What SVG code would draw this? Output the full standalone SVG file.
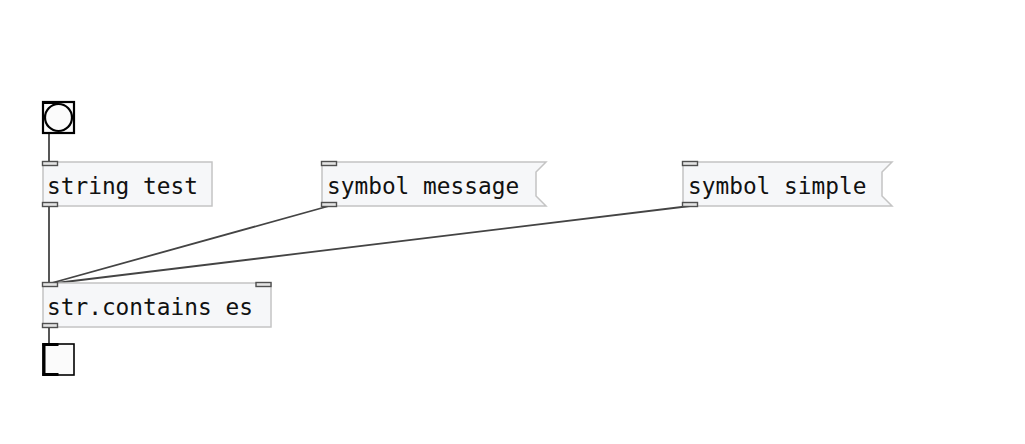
<svg xmlns="http://www.w3.org/2000/svg" width="1025" height="444" viewBox="0 0 1025 444">
<style>
.box{fill:#f6f7f9;stroke:#c4c4c4;stroke-width:1.5}
.io{fill:#e4e4e4;stroke:#505050;stroke-width:1.4}
.txt{font-family:"DejaVu Sans Mono","Liberation Mono",monospace;font-size:22.8px;fill:#111}
.cord{stroke:#444;stroke-width:1.8;fill:none}
</style>
<rect width="1025" height="444" fill="#ffffff"/>
<g id="connectors">
<line class="cord" x1="49" y1="133" x2="49" y2="162"/>
<line class="cord" x1="49" y1="206" x2="49" y2="284"/>
<line class="cord" x1="329" y1="206" x2="48" y2="284"/>
<line class="cord" x1="690" y1="206" x2="48" y2="284"/>
<line class="cord" x1="49" y1="327" x2="49" y2="344"/>
</g>
<g id="bang">
<rect x="43" y="102" width="31" height="31" fill="#fbfbfb" stroke="#000" stroke-width="2.2"/>
<circle cx="58.5" cy="117.5" r="13.5" fill="#fbfbfb" stroke="#000" stroke-width="2.2"/>
<rect x="43" y="101.5" width="15" height="2.5" fill="#000"/>
</g>
<g id="string_test">
<rect class="box" x="43" y="162" width="169" height="44"/>
<text class="txt" x="47" y="194">string test</text>
<rect class="io" x="42.5" y="161.5" width="15" height="4"/>
<rect class="io" x="42.5" y="202.5" width="15" height="4"/>
</g>
<g id="msg_symbol_message">
<path class="box" d="M322 162 H546 L536 172 V196 L546 206 H322 Z"/>
<text class="txt" x="327" y="194">symbol message</text>
<rect class="io" x="321.5" y="161.5" width="15" height="4"/>
<rect class="io" x="321.5" y="202.5" width="15" height="4"/>
</g>
<g id="msg_symbol_simple">
<path class="box" d="M683 162 H892 L882 172 V196 L892 206 H683 Z"/>
<text class="txt" x="688" y="194">symbol simple</text>
<rect class="io" x="682.5" y="161.5" width="15" height="4"/>
<rect class="io" x="682.5" y="202.5" width="15" height="4"/>
</g>
<g id="str_contains">
<rect class="box" x="43" y="283" width="228" height="44"/>
<text class="txt" x="47" y="315">str.contains es</text>
<rect class="io" x="42.5" y="282.5" width="15" height="4"/>
<rect class="io" x="256" y="282.5" width="15" height="4"/>
<rect class="io" x="42.5" y="323.5" width="15" height="4"/>
</g>
<g id="toggle">
<rect x="43" y="344" width="31" height="31" fill="#fbfbfb" stroke="#000" stroke-width="1.6"/>
<rect x="42.5" y="343" width="3" height="33" fill="#000"/>
<rect x="42.5" y="343" width="16" height="3" fill="#000"/>
<rect x="42.5" y="373" width="16" height="3" fill="#000"/>
</g>
</svg>
